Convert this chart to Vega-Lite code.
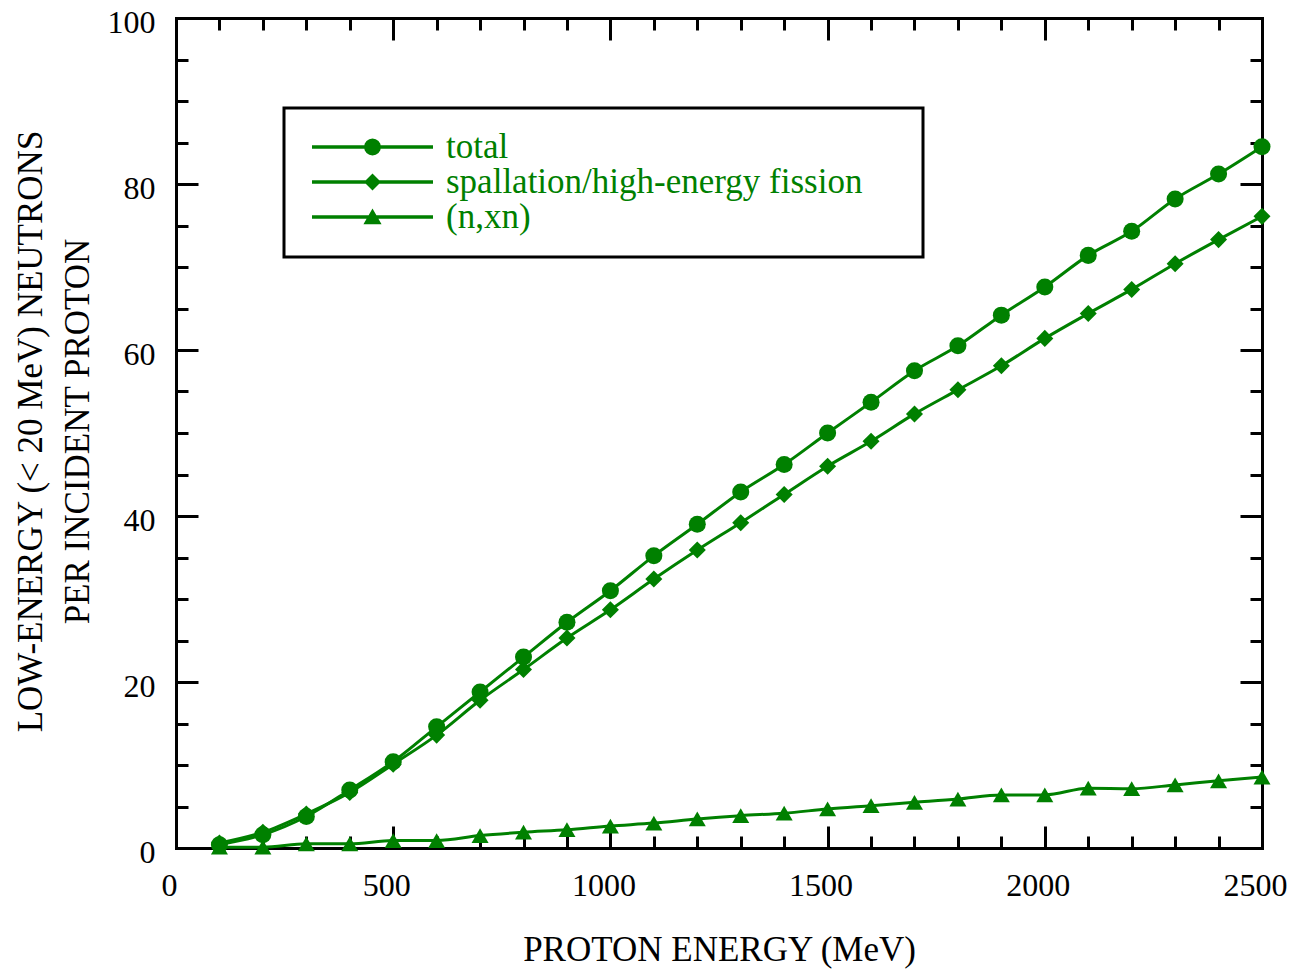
{
  "$schema": "https://vega.github.io/schema/vega-lite/v6.json",
  "width": 1086,
  "height": 830,
  "autosize": "none",
  "padding": {"left": 176, "top": 18, "right": 30, "bottom": 122},
  "background": "white",
  "config": {"view": {"stroke": null}, "font": "Liberation Serif", "legend": {"strokeWidth": 3}},
  "data": {"values": [
    {"E": 100, "series": "total", "N": 0.4},
    {"E": 200, "series": "total", "N": 1.6},
    {"E": 300, "series": "total", "N": 3.8},
    {"E": 400, "series": "total", "N": 7.0},
    {"E": 500, "series": "total", "N": 10.4},
    {"E": 600, "series": "total", "N": 14.6},
    {"E": 700, "series": "total", "N": 18.8},
    {"E": 800, "series": "total", "N": 23.0},
    {"E": 900, "series": "total", "N": 27.2},
    {"E": 1000, "series": "total", "N": 31.0},
    {"E": 1100, "series": "total", "N": 35.2},
    {"E": 1200, "series": "total", "N": 39.0},
    {"E": 1300, "series": "total", "N": 42.9},
    {"E": 1400, "series": "total", "N": 46.2},
    {"E": 1500, "series": "total", "N": 50.0},
    {"E": 1600, "series": "total", "N": 53.7},
    {"E": 1700, "series": "total", "N": 57.5},
    {"E": 1800, "series": "total", "N": 60.5},
    {"E": 1900, "series": "total", "N": 64.2},
    {"E": 2000, "series": "total", "N": 67.6},
    {"E": 2100, "series": "total", "N": 71.4},
    {"E": 2200, "series": "total", "N": 74.3},
    {"E": 2300, "series": "total", "N": 78.2},
    {"E": 2400, "series": "total", "N": 81.2},
    {"E": 2500, "series": "total", "N": 84.5},
    {"E": 100, "series": "spallation/high-energy fission", "N": 0.6},
    {"E": 200, "series": "spallation/high-energy fission", "N": 1.9},
    {"E": 300, "series": "spallation/high-energy fission", "N": 4.1},
    {"E": 400, "series": "spallation/high-energy fission", "N": 6.7},
    {"E": 500, "series": "spallation/high-energy fission", "N": 10.1},
    {"E": 600, "series": "spallation/high-energy fission", "N": 13.6},
    {"E": 700, "series": "spallation/high-energy fission", "N": 17.8},
    {"E": 800, "series": "spallation/high-energy fission", "N": 21.5},
    {"E": 900, "series": "spallation/high-energy fission", "N": 25.3},
    {"E": 1000, "series": "spallation/high-energy fission", "N": 28.7},
    {"E": 1100, "series": "spallation/high-energy fission", "N": 32.4},
    {"E": 1200, "series": "spallation/high-energy fission", "N": 35.9},
    {"E": 1300, "series": "spallation/high-energy fission", "N": 39.2},
    {"E": 1400, "series": "spallation/high-energy fission", "N": 42.6},
    {"E": 1500, "series": "spallation/high-energy fission", "N": 46.0},
    {"E": 1600, "series": "spallation/high-energy fission", "N": 49.0},
    {"E": 1700, "series": "spallation/high-energy fission", "N": 52.3},
    {"E": 1800, "series": "spallation/high-energy fission", "N": 55.2},
    {"E": 1900, "series": "spallation/high-energy fission", "N": 58.1},
    {"E": 2000, "series": "spallation/high-energy fission", "N": 61.4},
    {"E": 2100, "series": "spallation/high-energy fission", "N": 64.4},
    {"E": 2200, "series": "spallation/high-energy fission", "N": 67.3},
    {"E": 2300, "series": "spallation/high-energy fission", "N": 70.4},
    {"E": 2400, "series": "spallation/high-energy fission", "N": 73.3},
    {"E": 2500, "series": "spallation/high-energy fission", "N": 76.1},
    {"E": 100, "series": "(n,xn)", "N": 0.1},
    {"E": 200, "series": "(n,xn)", "N": 0.1},
    {"E": 300, "series": "(n,xn)", "N": 0.5},
    {"E": 400, "series": "(n,xn)", "N": 0.5},
    {"E": 500, "series": "(n,xn)", "N": 0.9},
    {"E": 600, "series": "(n,xn)", "N": 0.9},
    {"E": 700, "series": "(n,xn)", "N": 1.5},
    {"E": 800, "series": "(n,xn)", "N": 1.9},
    {"E": 900, "series": "(n,xn)", "N": 2.2},
    {"E": 1000, "series": "(n,xn)", "N": 2.65},
    {"E": 1100, "series": "(n,xn)", "N": 3.0},
    {"E": 1200, "series": "(n,xn)", "N": 3.5},
    {"E": 1300, "series": "(n,xn)", "N": 3.9},
    {"E": 1400, "series": "(n,xn)", "N": 4.2},
    {"E": 1500, "series": "(n,xn)", "N": 4.7},
    {"E": 1600, "series": "(n,xn)", "N": 5.1},
    {"E": 1700, "series": "(n,xn)", "N": 5.5},
    {"E": 1800, "series": "(n,xn)", "N": 5.9},
    {"E": 1900, "series": "(n,xn)", "N": 6.4},
    {"E": 2000, "series": "(n,xn)", "N": 6.4},
    {"E": 2100, "series": "(n,xn)", "N": 7.2},
    {"E": 2200, "series": "(n,xn)", "N": 7.15},
    {"E": 2300, "series": "(n,xn)", "N": 7.6},
    {"E": 2400, "series": "(n,xn)", "N": 8.1},
    {"E": 2500, "series": "(n,xn)", "N": 8.55}
  ]},
  "layer": [
    {
      "mark": {"type": "line", "interpolate": "monotone", "color": "#008000", "strokeWidth": 3},
      "encoding": {
        "x": {
          "field": "E", "type": "quantitative",
          "scale": {"domain": [0, 2500], "nice": false, "zero": true},
          "axis": {
            "orient": "bottom",
            "values": [0, 500, 1000, 1500, 2000, 2500],
            "format": "d",
            "ticks": true, "tickSize": -22, "tickWidth": 3, "tickColor": "black",
            "domainColor": "black", "domainWidth": 3, "domainCap": "square",
            "grid": false,
            "labelFont": "Liberation Serif", "labelFontSize": 32, "labelColor": "black",
            "labelPadding": 44, "labelOverlap": false, "labelFlush": false, "labelOffset": -7,
            "title": "PROTON ENERGY (MeV)",
            "titleFont": "Liberation Serif", "titleFontSize": 35, "titleFontWeight": "normal", "titleColor": "black",
            "titleX": 543, "titleY": 112, "titleAlign": "center", "titleBaseline": "alphabetic", "titleAnchor": null
          }
        },
        "y": {
          "field": "N", "type": "quantitative",
          "scale": {"domain": [0, 100], "nice": false},
          "axis": {
            "orient": "left",
            "values": [0, 20, 40, 60, 80, 100],
            "format": "d",
            "ticks": true, "tickSize": -22, "tickWidth": 3, "tickColor": "black",
            "domainColor": "black", "domainWidth": 3, "domainCap": "square",
            "grid": false,
            "labelFont": "Liberation Serif", "labelFontSize": 32, "labelColor": "black",
            "labelPadding": 43, "labelOverlap": false, "labelFlush": false, "labelOffset": 4,
            "title": ["LOW-ENERGY (< 20 MeV) NEUTRONS", "PER INCIDENT PROTON"],
            "titleFont": "Liberation Serif", "titleFontSize": 35, "titleFontWeight": "normal", "titleColor": "black",
            "titleAngle": -90, "titleX": -163, "titleY": 413, "titleAlign": "center", "titleBaseline": "top",
            "titleLineHeight": 47, "titleAnchor": null
          }
        },
        "detail": {"field": "series", "type": "nominal"}
      }
    },
    {
      "mark": {"type": "point", "filled": true, "color": "#008000", "opacity": 1, "size": 290},
      "encoding": {
        "x": {
          "field": "E", "type": "quantitative",
          "scale": {"domain": [0, 2500], "nice": false, "zero": true},
          "axis": {
            "orient": "top",
            "values": [0, 500, 1000, 1500, 2000, 2500],
            "labels": false, "title": null,
            "ticks": true, "tickSize": -22, "tickWidth": 3, "tickColor": "black",
            "domainColor": "black", "domainWidth": 3, "domainCap": "square", "grid": false
          }
        },
        "y": {
          "field": "N", "type": "quantitative",
          "scale": {"domain": [0, 100], "nice": false},
          "axis": {
            "orient": "right",
            "values": [0, 20, 40, 60, 80, 100],
            "labels": false, "title": null,
            "ticks": true, "tickSize": -22, "tickWidth": 3, "tickColor": "black",
            "domainColor": "black", "domainWidth": 3, "domainCap": "square", "grid": false
          }
        },
        "shape": {
          "field": "series", "type": "nominal",
          "scale": {"domain": ["total", "spallation/high-energy fission", "(n,xn)"], "range": ["circle", "diamond", "triangle-up"]},
          "legend": null
        }
      }
    },
    {
      "transform": [{"filter": "false"}],
      "mark": {"type": "point", "filled": true, "color": "#008000", "opacity": 1},
      "encoding": {
        "x": {
          "field": "E", "type": "quantitative",
          "scale": {"domain": [0, 2500], "nice": false, "zero": true},
          "axis": {
            "orient": "bottom",
            "values": [100,200,300,400,600,700,800,900,1100,1200,1300,1400,1600,1700,1800,1900,2100,2200,2300,2400],
            "labels": false, "title": null, "domain": false,
            "ticks": true, "tickSize": -12, "tickWidth": 3, "tickColor": "black", "grid": false
          }
        },
        "y": {
          "field": "N", "type": "quantitative",
          "scale": {"domain": [0, 100], "nice": false},
          "axis": {
            "orient": "left",
            "values": [5,10,15,25,30,35,45,50,55,65,70,75,85,90,95],
            "labels": false, "title": null, "domain": false,
            "ticks": true, "tickSize": -12, "tickWidth": 3, "tickColor": "black", "grid": false
          }
        },
        "shape": {
          "field": "series", "type": "nominal",
          "scale": {
            "domain": ["total", "spallation/high-energy fission", "(n,xn)"],
            "range": [
              "M-1,-0.027L1,-0.027L1,0.027L-1,0.027ZM0.14,0L0.1293,0.0536L0.099,0.099L0.0536,0.1293L0,0.14L-0.0536,0.1293L-0.099,0.099L-0.1293,0.0536L-0.14,0L-0.1293,-0.0536L-0.099,-0.099L-0.0536,-0.1293L0,-0.14L0.0536,-0.1293L0.099,-0.099L0.1293,-0.0536Z",
              "M-1,-0.027L1,-0.027L1,0.027L-1,0.027ZM0,-0.14L0.14,0L0,0.14L-0.14,0Z",
              "M-1,-0.027L1,-0.027L1,0.027L-1,0.027ZM0,-0.14L0.15,0.12L-0.15,0.12Z"
            ]
          },
          "legend": {
            "orient": "none", "legendX": 108, "legendY": 90,
            "title": "\u2003", "titleOrient": "right", "titlePadding": 39,
            "titleFont": "Liberation Serif", "titleFontSize": 35, "titleColor": "white",
            "symbolSize": 14641, "symbolStrokeWidth": 0, "symbolFillColor": "#008000", "symbolOpacity": 1,
            "labelFont": "Liberation Serif", "labelFontSize": 35, "labelColor": "#008000", "labelLimit": 0,
            "labelOffset": 13, "symbolOffset": 6,
            "padding": 22, "rowPadding": 0, "clipHeight": 34,
            "strokeColor": "black", "fillColor": "white"
          }
        }
      }
    },
    {
      "transform": [{"filter": "false"}],
      "mark": {"type": "point", "filled": true, "color": "#008000", "opacity": 1},
      "encoding": {
        "x": {
          "field": "E", "type": "quantitative",
          "scale": {"domain": [0, 2500], "nice": false, "zero": true},
          "axis": {
            "orient": "top",
            "values": [100,200,300,400,600,700,800,900,1100,1200,1300,1400,1600,1700,1800,1900,2100,2200,2300,2400],
            "labels": false, "title": null, "domain": false,
            "ticks": true, "tickSize": -12, "tickWidth": 3, "tickColor": "black", "grid": false
          }
        },
        "y": {
          "field": "N", "type": "quantitative",
          "scale": {"domain": [0, 100], "nice": false},
          "axis": {
            "orient": "right",
            "values": [5,10,15,25,30,35,45,50,55,65,70,75,85,90,95],
            "labels": false, "title": null, "domain": false,
            "ticks": true, "tickSize": -12, "tickWidth": 3, "tickColor": "black", "grid": false
          }
        }
      }
    }
  ],
  "resolve": {"axis": {"x": "independent", "y": "independent"}, "scale": {"shape": "independent"}}
}
